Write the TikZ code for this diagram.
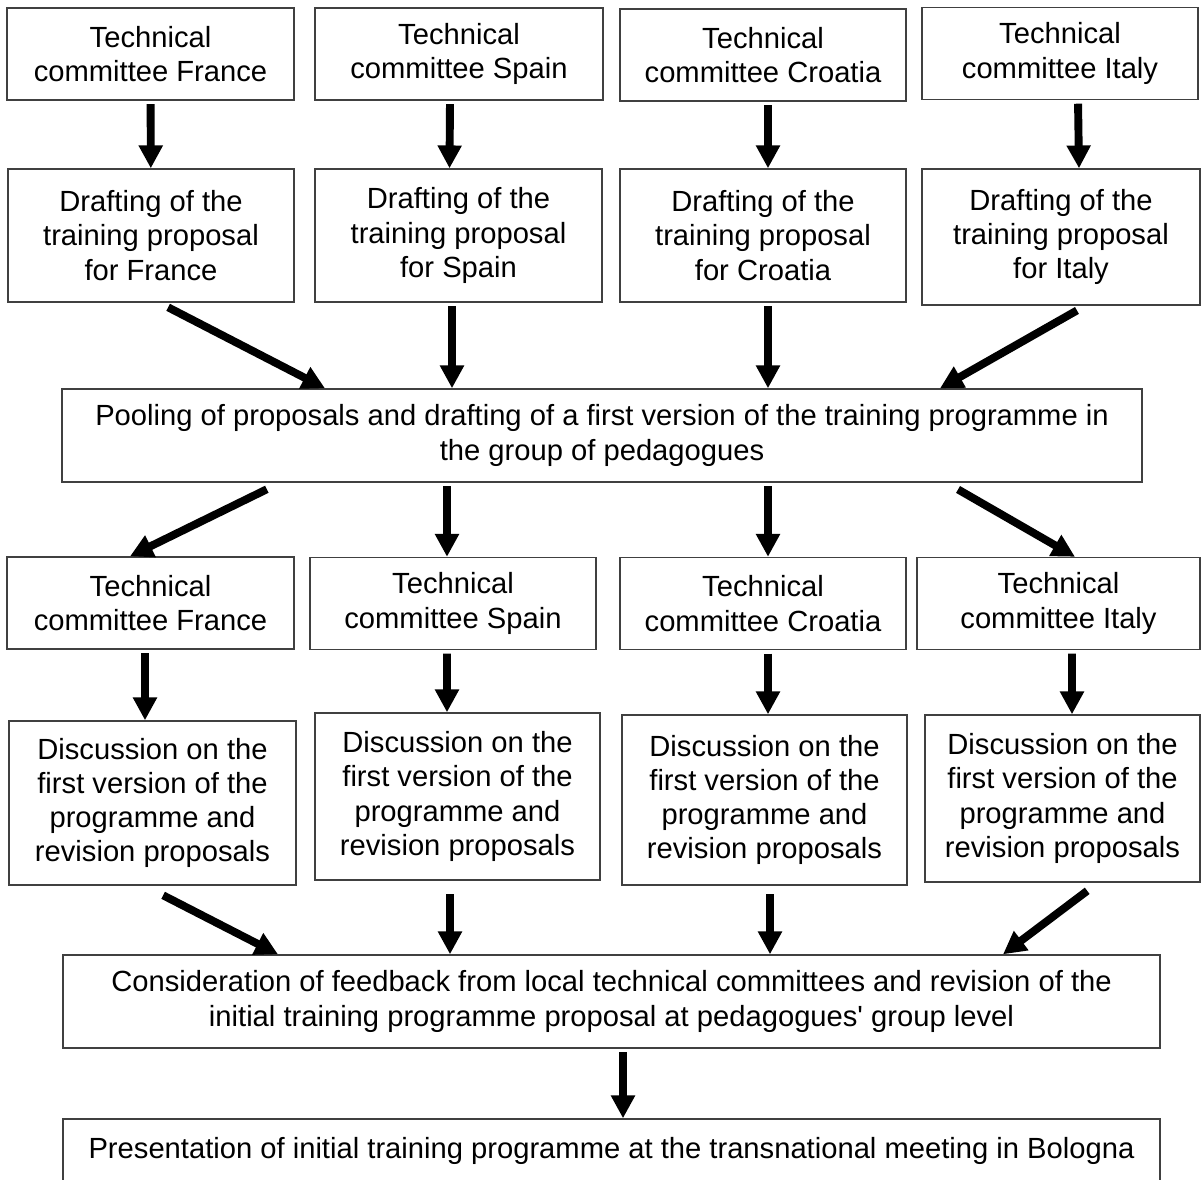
\documentclass[tikz,border=0pt]{standalone}
\usepackage{fontspec}
\setmainfont{Liberation Sans}[Ligatures=TeXOff]
\usetikzlibrary{arrows.meta}

\begin{document}
\begin{tikzpicture}[
    box/.style={rectangle, draw=black!75, line width=0.8pt, align=center, inner sep=2pt, font=\fontsize{16.6}{19.5}\selectfont},
    small/.style={box, minimum height=1.84cm},
    tall/.style={box, minimum height=2.66cm},
    wide/.style={box, minimum width=21.6cm, minimum height=1.86cm},
    arrow/.style={-{Triangle[width=13pt,length=13pt]}, line width=4.5pt, shorten <=2pt}
]
    \clip (0,0) rectangle (24.02,-23.58);

    % Technical committees (first round)
    \node[small, minimum width=5.74cm] (tc_fr) at (3.01,-1.08) {Technical\\committee France};
    \node[small, minimum width=5.76cm] (tc_sp) at (9.18,-1.08) {Technical\\committee Spain};
    \node[small, minimum width=5.72cm] (tc_hr) at (15.26,-1.10) {Technical\\committee Croatia};
    \node[small, minimum width=5.52cm] (tc_it) at (21.20,-1.07) {Technical\\committee Italy};

    % Drafting of proposals
    \node[tall, minimum width=5.72cm] (draft_fr) at (3.02,-4.71) {Drafting of the\\training proposal\\for France};
    \node[tall, minimum width=5.74cm] (draft_sp) at (9.17,-4.71) {Drafting of the\\training proposal\\for Spain};
    \node[tall, minimum width=5.72cm] (draft_hr) at (15.26,-4.71) {Drafting of the\\training proposal\\for Croatia};
    \node[tall, minimum width=5.56cm, minimum height=2.72cm] (draft_it) at (21.22,-4.74) {Drafting of the\\training proposal\\for Italy};

    % Pooling
    \node[wide] (pool) at (12.04,-8.71) {Pooling of proposals and drafting of a first version of the training programme in\\the group of pedagogues};

    % Technical committees (second round)
    \node[small, minimum width=5.74cm] (tc2_fr) at (3.01,-12.06) {Technical\\committee France};
    \node[small, minimum width=5.72cm] (tc2_sp) at (9.06,-12.07) {Technical\\committee Spain};
    \node[small, minimum width=5.72cm] (tc2_hr) at (15.26,-12.07) {Technical\\committee Croatia};
    \node[small, minimum width=5.66cm] (tc2_it) at (21.17,-12.07) {Technical\\committee Italy};

    % Discussion
    \node[box, minimum width=5.74cm, minimum height=3.28cm] (disc_fr) at (3.05,-16.06) {Discussion on the\\first version of the\\programme and\\revision proposals};
    \node[box, minimum width=5.70cm, minimum height=3.34cm] (disc_sp) at (9.15,-15.93) {Discussion on the\\first version of the\\programme and\\revision proposals};
    \node[box, minimum width=5.70cm, minimum height=3.40cm] (disc_hr) at (15.29,-16.00) {Discussion on the\\first version of the\\programme and\\revision proposals};
    \node[box, minimum width=5.50cm, minimum height=3.34cm] (disc_it) at (21.25,-15.97) {Discussion on the\\first version of the\\programme and\\revision proposals};

    % Revision and presentation
    \node[wide, minimum width=21.94cm] (revise) at (12.23,-20.03) {Consideration of feedback from local technical committees and revision of the\\initial training programme proposal at pedagogues' group level};
    \node[box, minimum width=21.94cm, minimum height=1.26cm] (present) at (12.23,-23.01) {Presentation of initial training programme at the transnational meeting in Bologna};

    % Arrows
    \draw[arrow] (tc_fr) -- (draft_fr);
    \draw[arrow] ([xshift=-0.18cm]tc_sp.south) -- ([xshift=-0.18cm]draft_sp.north);
    \draw[arrow] ([xshift=0.10cm]tc_hr.south) -- ([xshift=0.10cm]draft_hr.north);
    \draw[arrow] ([xshift=0.36cm]tc_it.south) -- ([xshift=0.36cm]draft_it.north);

    \draw[arrow] ([xshift=0.28cm,yshift=-0.06cm]draft_fr.south) -- ([xshift=-5.54cm]pool.north);
    \draw[arrow] ([xshift=-0.13cm]draft_sp.south) -- ([xshift=-3.00cm]pool.north);
    \draw[arrow] ([xshift=0.10cm]draft_hr.south) -- ([xshift=3.32cm]pool.north);
    \draw[arrow] ([xshift=0.38cm,yshift=-0.06cm]draft_it.south) -- ([xshift=6.76cm]pool.north);

    \draw[arrow] ([xshift=-6.64cm,yshift=-0.1cm]pool.south) -- ([xshift=-0.41cm]tc2_fr.north);
    \draw[arrow] ([xshift=-3.10cm]pool.south) -- ([xshift=-0.12cm]tc2_sp.north);
    \draw[arrow] ([xshift=3.32cm]pool.south) -- ([xshift=0.10cm]tc2_hr.north);
    \draw[arrow] ([xshift=7.06cm,yshift=-0.1cm]pool.south) -- ([xshift=0.33cm]tc2_it.north);

    \draw[arrow] ([xshift=-0.11cm]tc2_fr.south) -- ([xshift=-0.15cm]disc_fr.north);
    \draw[arrow] ([xshift=-0.12cm]tc2_sp.south) -- ([xshift=-0.21cm]disc_sp.north);
    \draw[arrow] ([xshift=0.10cm]tc2_hr.south) -- ([xshift=0.07cm]disc_hr.north);
    \draw[arrow] ([xshift=0.27cm]tc2_it.south) -- ([xshift=0.19cm]disc_it.north);

    \draw[arrow] ([xshift=0.15cm,yshift=-0.16cm]disc_fr.south) -- ([xshift=-6.67cm]revise.north);
    \draw[arrow] ([xshift=-0.15cm,yshift=-0.2cm]disc_sp.south) -- ([xshift=-3.23cm]revise.north);
    \draw[arrow] ([xshift=0.11cm,yshift=-0.1cm]disc_hr.south) -- ([xshift=3.17cm]revise.north);
    \draw[arrow] ([xshift=0.55cm,yshift=-0.12cm]disc_it.south) -- ([xshift=7.83cm]revise.north);

    \draw[arrow] ([xshift=0.23cm]revise.south) -- ([xshift=0.23cm]present.north);

\end{tikzpicture}
\end{document}
